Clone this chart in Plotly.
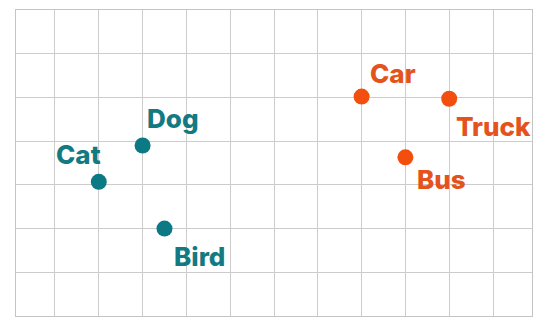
import plotly.graph_objects as go

# Data
animals = ["Cat", "Dog", "Bird"]
animal_x = [2.0, 3.0, 3.5]
animal_y = [3.07, 3.9, 2.0]

vehicles = ["Car", "Truck", "Bus"]
vehicle_x = [8.0, 10.0, 9.0]
vehicle_y = [5.02, 4.97, 3.63]

# Styles
TEAL = "#0b7a84"
ORANGE = "#f24f0f"
TEAL_TXT = "#137a82"
ORANGE_TXT = "#e4531b"
# label pixel offsets (style only)
animal_off = [(-20, 27), (30, 27), (35, -28)]
vehicle_off = [(31, 23), (44, -28), (36, -22)]

fig = go.Figure()
fig.add_trace(go.Scatter(x=animal_x, y=animal_y, mode="markers",
                         marker=dict(size=16, color=TEAL), hoverinfo="skip"))
fig.add_trace(go.Scatter(x=vehicle_x, y=vehicle_y, mode="markers",
                         marker=dict(size=16, color=ORANGE), hoverinfo="skip"))

for names, xs, ys, offs, col in [(animals, animal_x, animal_y, animal_off, TEAL_TXT),
                                 (vehicles, vehicle_x, vehicle_y, vehicle_off, ORANGE_TXT)]:
    for n, x, y, (dx, dy) in zip(names, xs, ys, offs):
        fig.add_annotation(x=x, y=y, text=n, showarrow=False,
                           xanchor="center", yanchor="middle",
                           xshift=dx, yshift=dy,
                           font=dict(family="Inter", size=26, weight=800, color=col))

axis_common = dict(showgrid=True, gridcolor="#cccccc", gridwidth=1,
                   zeroline=False, showticklabels=False, ticks="",
                   showline=True, linecolor="#c4c4c4", linewidth=1, mirror=True,
                   dtick=1, tick0=0, fixedrange=True)
fig.update_xaxes(range=[0.11, 11.89], **axis_common)
fig.update_yaxes(range=[0, 7], **axis_common)

fig.update_layout(width=550, height=328, margin=dict(l=16, r=18, t=10, b=12),
                  plot_bgcolor="white", paper_bgcolor="white", showlegend=False)

fig.write_html("out.html")
